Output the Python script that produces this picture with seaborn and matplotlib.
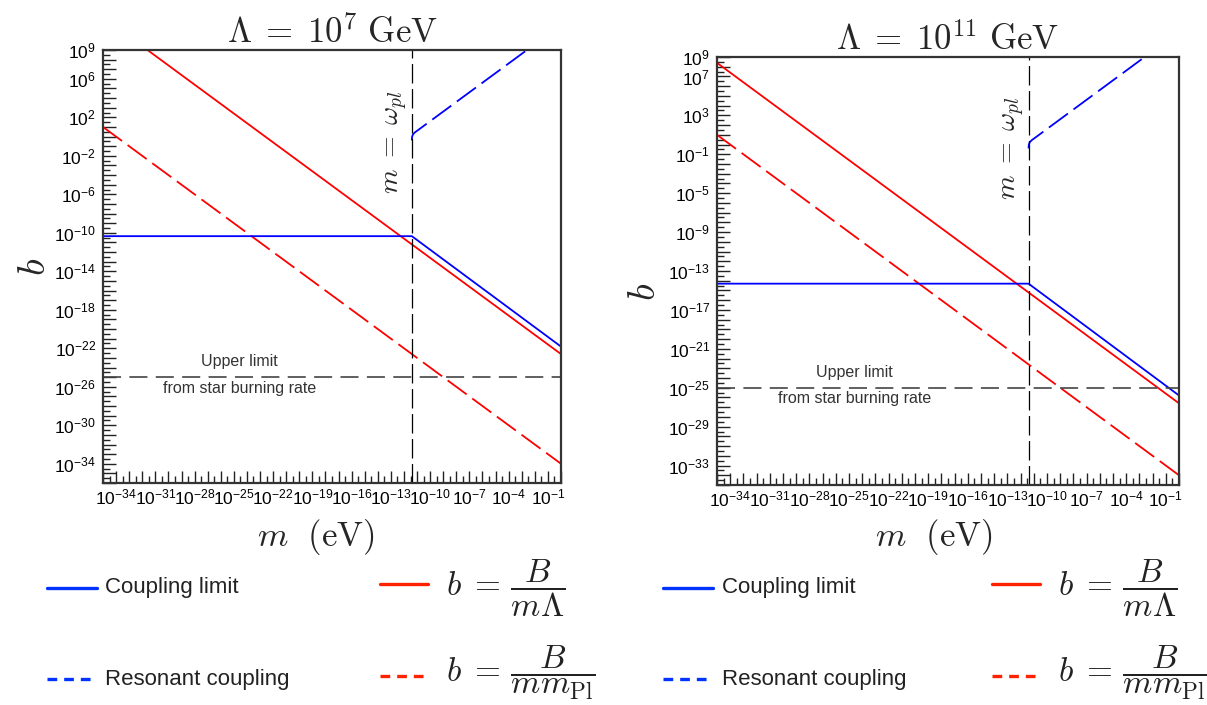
import numpy as np
import matplotlib
matplotlib.use("Agg")
import matplotlib.pyplot as plt
import matplotlib.transforms as mtransforms
from matplotlib.lines import Line2D
from matplotlib.ticker import NullFormatter
import seaborn as sns

# ---------------- data ----------------
panel_titles = [r"$\Lambda\;=\;10^{7}\ \mathrm{GeV}$", r"$\Lambda\;=\;10^{11}\ \mathrm{GeV}$"]
omega_pl = 4.0e-12                      # eV, position of m = omega_pl

m_coupling = [1e-35, 4.0e-12, 1.0]
b_coupling_L7 = [4.5e-11, 4.5e-11, 1.5e-22]
b_coupling_L11 = [5.0e-15, 5.0e-15, 1.6e-26]

m_resonant = [4.0e-12, 4.2e-12, 5.0e-12, 7.0e-12, 1.0e-11, 1.0e-2]
b_resonant = [0.4, 1.0, 1.8, 2.8, 4.0, 4.0e9]

m_red = [1e-35, 1.0]
b_mLambda_L7 = [2.5e12, 2.5e-23]
b_mLambda_L11 = [2.5e8, 2.5e-27]
b_mmPl = [10.0, 1.0e-34]

b_star_limit = 1e-25

xtick_exponents = [-34, -31, -28, -25, -22, -19, -16, -13, -10, -7, -4, -1]
ytick_exponents_L7 = [9, 6, 2, -2, -6, -10, -14, -18, -22, -26, -30, -34]
ytick_exponents_L11 = [9, 7, 3, -1, -5, -9, -13, -17, -21, -25, -29, -33]
ylims = [(1e-36, 1e9), (1e-35, 1e9)]
xlim = (1e-35, 1.0)

legend_labels = ["Coupling limit", "Resonant coupling",
                 r"$b\;=\,\dfrac{\;B\;}{m\Lambda}$", r"$b\;=\,\dfrac{B}{m m_{\mathrm{Pl}}}$"]

# ---------------- style ----------------
sns.set_theme(style="ticks")
plt.rcParams["font.family"] = ["Liberation Sans", "DejaVu Sans"]
plt.rcParams["mathtext.fontset"] = "cm"
plt.rcParams["mathtext.rm"] = "Liberation Sans"
plt.rcParams["mathtext.it"] = "Liberation Sans:italic"
plt.rcParams["mathtext.bf"] = "Liberation Sans:bold"
plt.rcParams["lines.scale_dashes"] = False

W, H = 1207, 705
fig = plt.figure(figsize=(W / 100, H / 100), dpi=100)

def fx(px):
    return px / W

def fy(py):
    return 1 - py / H

axes_px = [(103, 50, 561, 483), (717, 57, 1179, 485)]
BLUE = "#0000ff"
RED = "#ff0000"

panels = [
    (b_coupling_L7, b_mLambda_L7, ytick_exponents_L7),
    (b_coupling_L11, b_mLambda_L11, ytick_exponents_L11),
]

for i, (bc, bml, yexp) in enumerate(panels):
    x0, y0, x1, y1 = axes_px[i]
    ax = fig.add_axes([fx(x0), fy(y1), (x1 - x0) / W, (y1 - y0) / H])
    ax.set_xscale("log")
    ax.set_yscale("log")
    ax.set_xlim(*xlim)
    ax.set_ylim(*ylims[i])

    sns.lineplot(x=m_red, y=bml, ax=ax, color=RED, lw=1.3, estimator=None, sort=False)
    sns.lineplot(x=m_red, y=b_mmPl, ax=ax, color=RED, lw=1.3, estimator=None, sort=False,
                 linestyle=(0, (17, 5)))
    sns.lineplot(x=m_coupling, y=bc, ax=ax, color=BLUE, lw=1.3, estimator=None, sort=False)
    sns.lineplot(x=m_resonant, y=b_resonant, ax=ax, color=BLUE, lw=1.3, estimator=None,
                 sort=False, linestyle=(0, (17, 5)))

    ax.axvline(omega_pl, color="black", lw=0.9, linestyle=(0, (14, 4)))
    ax.axhline(b_star_limit, color="#444444", lw=1.2, linestyle=(0, (13, 6)))

    # ticks
    maj_x = 10.0 ** np.arange(-35, 1)
    ax.set_xticks(maj_x, [r"$\mathregular{10^{%d}}$" % e if e in xtick_exponents else ""
                          for e in range(-35, 1)])
    ax.set_xticks(10.0 ** (np.arange(-35, 0) + 0.5), minor=True)
    lo = int(np.log10(ylims[i][0]))
    hi = int(np.log10(ylims[i][1]))
    ax.set_yticks(10.0 ** np.arange(lo, hi + 1),
                  [r"$\mathregular{10^{%d}}$" % e if e in yexp else "" for e in range(lo, hi + 1)])
    ax.set_yticks(10.0 ** (np.arange(lo, hi) + 0.5), minor=True)
    ax.xaxis.set_minor_formatter(NullFormatter())
    ax.yaxis.set_minor_formatter(NullFormatter())
    ax.set_xlim(*xlim)
    ax.set_ylim(*ylims[i])
    ax.tick_params(which="major", direction="in", length=9, width=1.0, color="#222222",
                   labelsize=12.5, top=False, right=False)
    ax.tick_params(which="minor", direction="in", length=5, width=1.0, color="#222222",
                   top=False, right=False)
    ax.tick_params(axis="x", which="major", pad=3)
    ax.tick_params(axis="y", which="major", pad=5)
    for lbl in ax.get_xticklabels() + ax.get_yticklabels():
        lbl.set_math_fontfamily("custom")
        lbl.set_color("black")
    for sp in ax.spines.values():
        sp.set_linewidth(1.6)
        sp.set_color("#333333")

    ax.set_title(panel_titles[i], fontsize=25, pad=4)
    ax.set_xlabel(r"$m\ \ (\mathrm{eV})$", fontsize=25, va="center")
    ax.set_ylabel(r"$b$", fontsize=28, va="center")
    xc = 316 if i == 0 else 934
    ax.xaxis.set_label_coords((xc - x0) / (x1 - x0), -(537 - y1) / (y1 - y0))
    if i == 0:
        ax.yaxis.set_label_coords((35 - x0) / (x1 - x0), (y1 - 267) / (y1 - y0))
    else:
        ax.yaxis.set_label_coords((645 - x0) / (x1 - x0), (y1 - 292) / (y1 - y0))

    ax.text(0.643, 0.786, r"$m\;=\;\omega_{pl}$", transform=ax.transAxes, rotation=90,
            ha="center", va="center", fontsize=20)

    blend = mtransforms.blended_transform_factory(ax.transAxes, ax.transData)
    ax.annotate("Upper limit", xy=(0.298, b_star_limit), xycoords=blend,
                xytext=(0, 15.5), textcoords="offset pixels", ha="center", va="center",
                fontsize=11.5, color="#333333")
    ax.annotate("from star burning rate", xy=(0.298, b_star_limit), xycoords=blend,
                xytext=(0, -11), textcoords="offset pixels", ha="center", va="center",
                fontsize=11.5, color="#333333")

# ---------------- legends (below each panel) ----------------
leg_px = [
    dict(bx=(47, 97), bt=105, rx=(380, 428), rt=446),
    dict(bx=(663, 713), bt=722, rx=(992, 1040), rt=1058),
]
LEG_BLUE = "#0033ff"
LEG_RED = "#ff2200"
for lp in leg_px:
    for row, (ls, ypx) in enumerate([("-", 588), ((0, (7, 5)), 679)]):
        fig.add_artist(Line2D([fx(lp["bx"][0]), fx(lp["bx"][1])], [fy(ypx), fy(ypx)],
                              transform=fig.transFigure, color=LEG_BLUE, lw=2.4, linestyle=ls))
        fig.text(fx(lp["bt"]), fy(ypx), legend_labels[row], ha="left", va="center",
                 fontsize=16, color="#222222")
        ry = 584 if row == 0 else 676
        fig.add_artist(Line2D([fx(lp["rx"][0]), fx(lp["rx"][1])], [fy(ry), fy(ry)],
                              transform=fig.transFigure, color=LEG_RED, lw=2.4, linestyle=ls))
    fig.text(fx(lp["rt"]), fy(588), legend_labels[2], ha="left", va="center", fontsize=24,
             color="#222222")
    fig.text(fx(lp["rt"]), fy(673), legend_labels[3], ha="left", va="center", fontsize=24,
             color="#222222")

fig.savefig("out.png", dpi=100)
